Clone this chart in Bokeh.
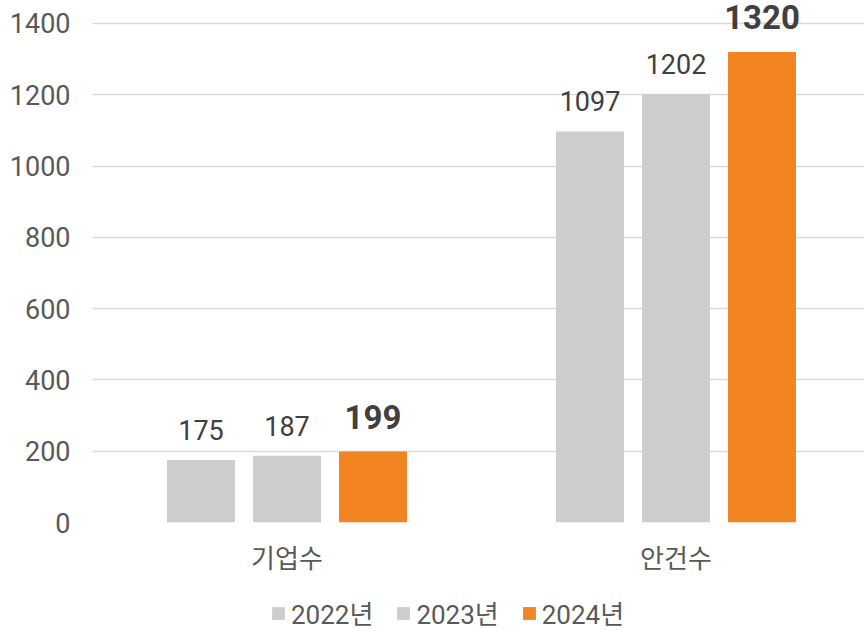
from bokeh.plotting import figure
from bokeh.layouts import column
from bokeh.models import ColumnDataSource, Range1d, FixedTicker, Legend, LegendItem
from bokeh.core.properties import value
from bokeh.embed import file_html
from bokeh.resources import INLINE

categories = ["기업수", "안건수"]
years = ["2022년", "2023년", "2024년"]
v2022 = [175, 1097]
v2023 = [187, 1202]
v2024 = [199, 1320]
y_ticks = [0, 200, 400, 600, 800, 1000, 1200, 1400]

series = [v2022, v2023, v2024]
colors = ["#CDCDCC", "#CDCDCC", "#F38422"]
NUMFONT = "Roboto"
FONT = "Roboto, 'Noto Sans CJK KR'"

p = figure(frame_width=772, frame_height=522, output_backend="svg", toolbar_location=None,
           x_range=Range1d(0, 1.9846), y_range=Range1d(0, 1464.5),
           min_border_left=92, min_border_right=0, min_border_top=0, min_border_bottom=73)
p.outline_line_color = None
p.background_fill_color = "white"
p.border_fill_color = "white"

step = 0.2211
bw = 0.1748
centers = [i + 0.5 for i in range(len(categories))]
renderers = []
sources = []
for k, (vals, col) in enumerate(zip(series, colors)):
    xs = [c + (k - 1) * step for c in centers]
    src = ColumnDataSource(dict(x=xs, top=vals, lab=[str(v) for v in vals]))
    sources.append(src)
    r = p.vbar(x="x", top="top", width=bw, source=src, fill_color=col, line_color=None)
    renderers.append(r)
    bold = (k == 2)
    p.text(x="x", y="top", text="lab", source=src,
           text_font=value(NUMFONT),
           text_font_size="33px" if bold else "27px",
           text_font_style="bold" if bold else "normal",
           text_color="#404040", text_align="center", text_baseline="alphabetic",
           y_offset=-35 if bold else -30)

p.xaxis.ticker = FixedTicker(ticks=centers)
p.xaxis.major_label_overrides = {c: n for c, n in zip(centers, categories)}
p.xaxis.axis_line_color = None
p.xaxis.major_tick_line_color = None
p.xaxis.minor_tick_line_color = None
p.xaxis.major_tick_out = 0
p.xaxis.major_label_text_font = FONT
p.xaxis.major_label_text_font_size = "26px"
p.xaxis.major_label_text_color = "#595959"
p.xaxis.major_label_standoff = 21
p.xgrid.grid_line_color = None

p.yaxis.ticker = FixedTicker(ticks=y_ticks)
p.yaxis.axis_line_color = None
p.yaxis.major_tick_line_color = None
p.yaxis.minor_tick_line_color = None
p.yaxis.major_tick_out = 0
p.yaxis.major_label_text_font = NUMFONT
p.yaxis.major_label_text_font_size = "27px"
p.yaxis.major_label_text_color = "#595959"
p.yaxis.major_label_standoff = 22
p.ygrid.ticker = FixedTicker(ticks=y_ticks)
p.ygrid.grid_line_color = "#D9D9D9"
p.ygrid.grid_line_width = 1.5

# legend strip below the chart (hidden copies of the series give the legend swatches)
q = figure(width=864, height=36, output_backend="svg", toolbar_location=None,
           x_range=Range1d(0, 1), y_range=Range1d(0, 1),
           min_border_left=0, min_border_right=0, min_border_top=0, min_border_bottom=0)
q.axis.visible = False
q.grid.visible = False
q.outline_line_color = None
q.background_fill_color = "white"
q.border_fill_color = "white"
leg_renderers = [q.vbar(x="x", top="top", width=bw, source=s, fill_color=c, line_color=None, visible=False)
                 for s, c in zip(sources, colors)]

legend = Legend(items=[LegendItem(label=y, renderers=[r]) for y, r in zip(years, leg_renderers)],
                orientation="horizontal", location=(178, 0))
legend.glyph_width = 16
legend.glyph_height = 16
legend.label_standoff = 5
legend.spacing = 22
legend.padding = 0
legend.margin = 0
legend.border_line_color = None
legend.background_fill_alpha = 0
legend.inactive_fill_alpha = 0
legend.label_text_font = FONT
legend.label_text_font_size = "26px"
legend.label_text_color = "#595959"
q.add_layout(legend, "center")

layout = column(p, q, spacing=0)
open("out.html", "w").write(file_html(layout, INLINE))
